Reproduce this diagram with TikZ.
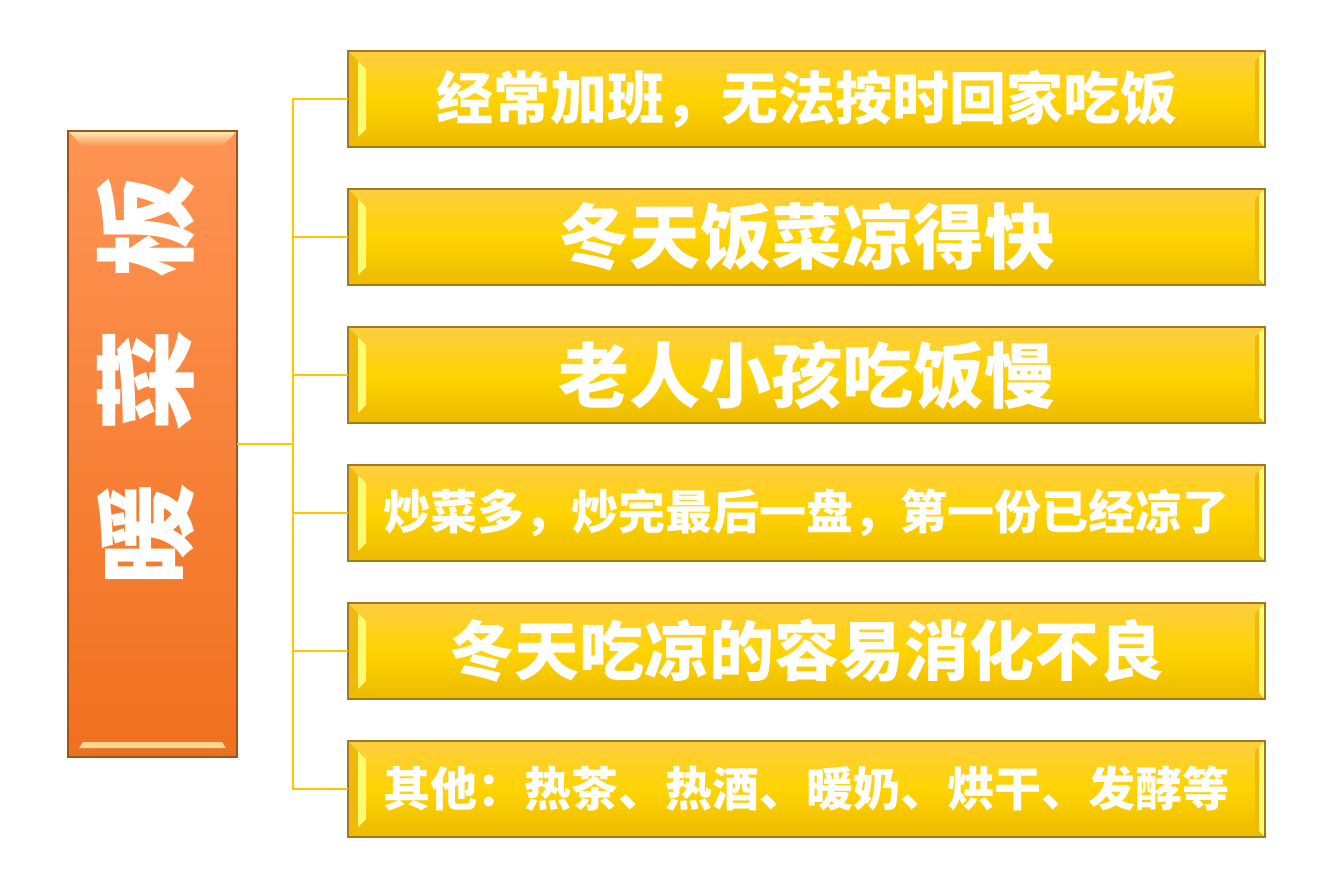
\documentclass[tikz,border=0pt]{standalone}
\usepackage{fontspec}
\setmainfont{Noto Sans CJK SC}
\usetikzlibrary{calc}
\definecolor{ytop}{RGB}{255,206,64}
\definecolor{ymid}{RGB}{255,212,0}
\definecolor{ybot}{RGB}{236,186,0}
\definecolor{yline}{RGB}{158,124,30}
\definecolor{ydark}{RGB}{240,184,10}
\definecolor{ylight}{RGB}{255,250,110}
\definecolor{otop}{RGB}{255,148,84}
\definecolor{obot}{RGB}{240,112,30}
\definecolor{oline}{RGB}{160,84,28}
\definecolor{olight}{RGB}{255,236,180}
\definecolor{odark}{RGB}{228,116,36}
\definecolor{lk}{RGB}{255,198,0}
\begin{document}
\begin{tikzpicture}[x=1pt,y=-1pt,
  ybox/.style={draw=yline,line width=1.5pt,outer sep=0pt,minimum width=917pt,minimum height=96pt,
    top color=ytop,bottom color=ybot,middle color=ymid,text=white},
  obox/.style={draw=oline,line width=1.5pt,outer sep=0pt,minimum width=169pt,minimum height=626pt,
    top color=otop,bottom color=obot},
  otext/.style={rotate=90,text=white,font=\bfseries\fontsize{102}{110}\selectfont},
  link/.style={draw=lk,line width=2pt}]
\useasboundingbox (0,0) rectangle (1334,889);

\node[obox](0) at (152.5,444){};
\node[otext](t) at (146,380){暖\hspace{52pt}菜\hspace{52pt}板};

\node[ybox,font=\bfseries\fontsize{57}{60}\selectfont](1) at (806.5,99){经常加班，无法按时回家吃饭};
\node[ybox,font=\bfseries\fontsize{71}{74}\selectfont](2) at (806.5,237){冬天饭菜凉得快};
\node[ybox,font=\bfseries\fontsize{71}{74}\selectfont](3) at (806.5,375){老人小孩吃饭慢};
\node[ybox,font=\bfseries\fontsize{47}{50}\selectfont](4) at (806.5,513){炒菜多，炒完最后一盘，第一份已经凉了};
\node[ybox,font=\bfseries\fontsize{65}{68}\selectfont](5) at (806.5,651){冬天吃凉的容易消化不良};
\node[ybox,font=\bfseries\fontsize{47}{50}\selectfont](6) at (806.5,789){其他：热茶、热酒、暖奶、烘干、发酵等};

% bevels
\path[top color=olight,bottom color=otop] (0.north west) -- (0.north east) -- ++(-15,15) -- ($(0.north west)+(15,15)$) -- cycle;
\fill[odark] (0.south west) -- (0.south east) -- ++(-15,-15) -- ($(0.south west)+(15,-15)$) -- cycle;
\fill[olight!80!orange] ($(0.south west)+(15,-15)$) -- ($(0.south east)+(-15,-15)$) -- ++(4,6) -- ($(0.south west)+(11,-9)$) -- cycle;
\draw[oline,line width=1.5pt] (0.north west) rectangle (0.south east);
\foreach \i in {1,...,6}{
  \fill[ydark] (\i.north west) -- ++(18,18) -- ($(\i.south west)+(18,-18)$) -- (\i.south west) -- cycle;
  \fill[ylight] ($(\i.north west)+(10,10)$) -- ++(8,8) -- ($(\i.south west)+(18,-18)$) -- ++(-8,8) -- cycle;
  \fill[ydark] (\i.north east) -- ++(-10,10) -- ($(\i.south east)+(-10,-10)$) -- (\i.south east) -- cycle;
  \fill[ylight] ($(\i.north east)+(-6,6)$) -- (\i.north east) -- (\i.south east) -- ++(-6,-6) -- cycle;
  \draw[yline,line width=1.5pt] (\i.north west) rectangle (\i.south east);
}

\draw[link] (0.east) -- ++(56,0) coordinate (j);
\foreach \i in {1,...,6}
  \draw[link] (j) |- (\i.west);
\end{tikzpicture}
\end{document}
